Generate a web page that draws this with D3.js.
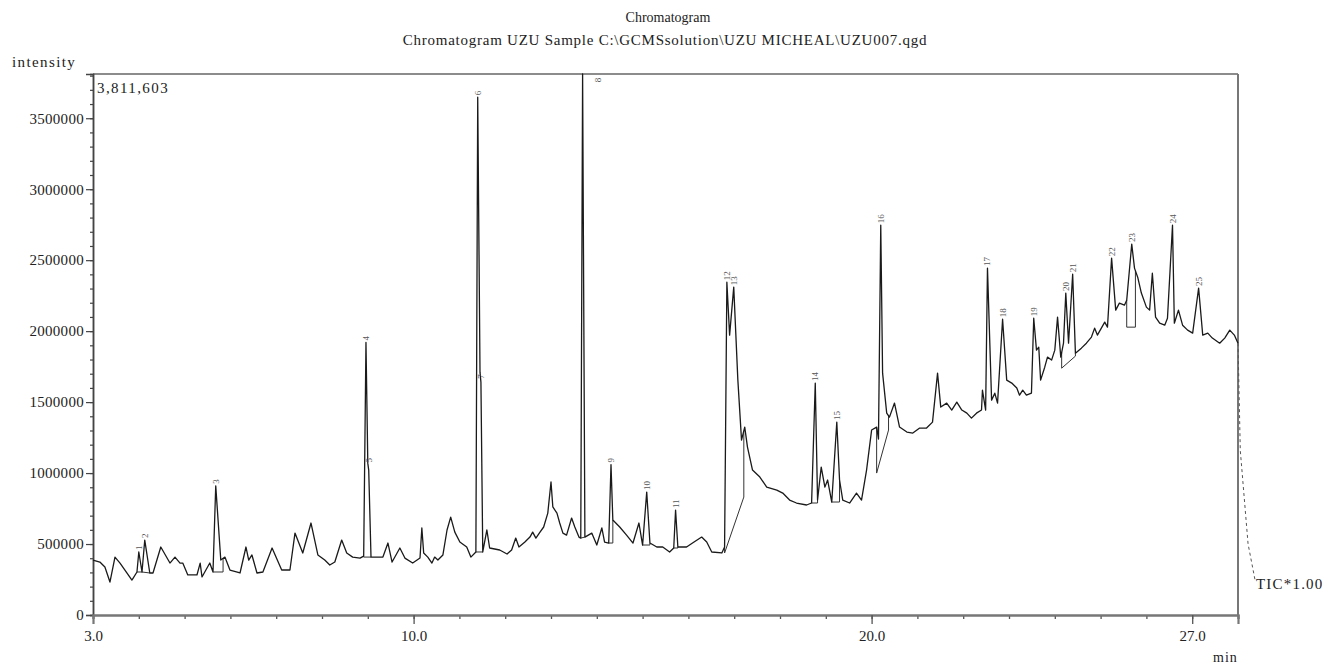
<!DOCTYPE html>
<html><head><meta charset="utf-8">
<script src="https://cdn.jsdelivr.net/npm/d3@7"></script>
<style>
body{margin:0;background:#fff;}
text{font-family:"Liberation Serif","Times New Roman",serif;}
</style></head><body>
<svg id="chart" width="1333" height="667"></svg>
<script>
// ---------------- DATA ----------------
const titleLines = ["Chromatogram", "Chromatogram UZU Sample C:\\GCMSsolution\\UZU MICHEAL\\UZU007.qgd"];
const yAxisTitle = "intensity";
const xAxisTitle = "min";
const traceName = "TIC*1.00";
const maxIntensity = 3811603;
const timeRange = [3.0, 28.0];
const yTickValues = [0, 500000, 1000000, 1500000, 2000000, 2500000, 3000000, 3500000];
const xTickLabels = [3.0, 10.0, 20.0, 27.0];
const xMajorTicks = [10.0, 20.0, 27.0];

const retentionTime = [
 3.00,3.15,3.26,3.37,3.48,3.59,3.85,3.96,4.00,4.07,
 4.13,4.24,4.31,4.48,4.68,4.79,4.90,4.96,5.07,5.27,
 5.34,5.38,5.55,5.62,5.68,5.79,5.88,5.99,6.21,6.34,
 6.40,6.47,6.58,6.71,6.91,7.12,7.30,7.41,7.58,7.76,
 7.91,8.06,8.17,8.28,8.43,8.54,8.67,8.83,8.91,8.96,
 9.00,9.02,9.07,9.33,9.44,9.53,9.70,9.81,9.98,10.14,
 10.18,10.22,10.31,10.40,10.46,10.53,10.64,10.73,10.81,10.90,
 11.01,11.16,11.25,11.36,11.40,11.45,11.47,11.51,11.60,11.66,
 11.88,12.04,12.14,12.23,12.30,12.43,12.54,12.60,12.67,12.76,
 12.84,12.93,13.00,13.04,13.13,13.19,13.26,13.34,13.45,13.52,
 13.61,13.65,13.69,13.74,13.89,14.00,14.11,14.17,14.26,14.31,
 14.35,14.50,14.65,14.79,14.92,15.00,15.09,15.16,15.31,15.44,
 15.59,15.68,15.72,15.77,15.96,16.09,16.29,16.40,16.51,16.73,
 16.79,16.84,16.90,16.99,17.08,17.16,17.23,17.29,17.40,17.56,
 17.71,17.93,18.06,18.21,18.36,18.58,18.69,18.77,18.82,18.90,
 18.98,19.04,19.13,19.24,19.30,19.37,19.52,19.67,19.78,19.89,
 20.00,20.11,20.15,20.20,20.24,20.33,20.39,20.50,20.61,20.77,
 20.90,21.05,21.20,21.33,21.44,21.51,21.64,21.75,21.86,21.97,
 22.08,22.18,22.29,22.40,22.42,22.49,22.53,22.62,22.69,22.75,
 22.86,22.95,23.06,23.17,23.23,23.30,23.38,23.49,23.54,23.60,
 23.65,23.69,23.78,23.84,23.93,24.00,24.06,24.13,24.19,24.24,
 24.30,24.39,24.45,24.58,24.69,24.80,24.87,24.93,25.09,25.15,
 25.24,25.33,25.41,25.52,25.57,25.68,25.74,25.81,25.89,26.00,
 26.07,26.13,26.20,26.29,26.40,26.46,26.57,26.61,26.70,26.79,
 26.90,27.01,27.14,27.23,27.34,27.44,27.60,27.71,27.82,27.92,
 28.00
];
const intensity = [
 387000,373000,338000,232000,408000,366000,246000,303000,444000,303000,
 528000,296000,296000,479000,366000,408000,366000,366000,282000,282000,
 366000,268000,366000,303000,910000,387000,408000,317000,296000,479000,
 387000,423000,296000,303000,472000,317000,317000,577000,437000,648000,
 423000,387000,352000,373000,528000,437000,408000,401000,415000,1920000,
 1070000,1021000,408000,408000,507000,373000,472000,401000,366000,401000,
 613000,437000,408000,366000,408000,387000,423000,599000,690000,584000,
 514000,479000,408000,444000,3648000,1711000,1641000,444000,599000,472000,
 458000,430000,458000,542000,479000,514000,549000,584000,542000,584000,
 620000,718000,937000,761000,718000,648000,577000,563000,683000,620000,
 549000,542000,3811603,549000,577000,493000,613000,514000,507000,1060000,
 669000,620000,563000,507000,648000,493000,866000,507000,479000,479000,
 444000,472000,739000,479000,479000,507000,549000,514000,444000,437000,
 479000,2345000,1972000,2310000,1655000,1232000,1324000,1183000,1021000,972000,
 901000,880000,859000,810000,789000,775000,789000,1634000,810000,1042000,
 901000,951000,796000,1359000,951000,810000,789000,859000,810000,1021000,
 1303000,1324000,1240000,2746000,1704000,1422000,1394000,1493000,1324000,1289000,
 1282000,1317000,1317000,1359000,1704000,1465000,1493000,1444000,1500000,1444000,
 1422000,1387000,1422000,1444000,1584000,1444000,2444000,1514000,1563000,1493000,
 2084000,1655000,1634000,1599000,1549000,1584000,1549000,1563000,2091000,1866000,
 1887000,1655000,1746000,1817000,1796000,1866000,2099000,1817000,1915000,2268000,
 1915000,2401000,1845000,1880000,1915000,1958000,2021000,1972000,2063000,2028000,
 2514000,2148000,2197000,2183000,2218000,2613000,2444000,2380000,2268000,2169000,
 2148000,2408000,2099000,2056000,2042000,2091000,2746000,2056000,2148000,2042000,
 2007000,1986000,2303000,1972000,1986000,1951000,1915000,1951000,2007000,1972000,
 1915000
];
// dashed tail beyond the end of the run
const tailTime = [28.00, 28.05, 28.22, 28.37];
const tailIntensity = [1915000, 1160000, 500000, 250000];

// peak table: number, retention time, top intensity
const peakNumbers = [1,2,3,4,5,6,7,8,9,10,11,12,13,14,15,16,17,18,19,20,21,22,23,24,25];
const peakTimes = [4.00,4.13,5.68,8.96,9.02,11.40,11.48,13.69,14.31,15.09,15.72,16.84,16.99,18.77,19.24,20.20,22.53,22.86,23.54,24.24,24.39,25.24,25.68,26.57,27.14];
const peakHeights = [444000,528000,910000,1920000,1060000,3648000,1650000,3811603,1060000,866000,739000,2345000,2310000,1634000,1359000,2746000,2444000,2084000,2091000,2268000,2401000,2514000,2613000,2746000,2303000];

// integration baselines [startTime, startIntensity, endTime, endIntensity]
const integrationBaselines = [
 [3.96,303000,4.07,303000],
 [4.07,303000,4.24,296000],
 [5.62,303000,5.84,303000],
 [8.91,408000,9.07,408000],
 [11.36,444000,11.51,444000],
 [13.65,542000,13.74,549000],
 [14.26,507000,14.35,507000],
 [15.00,493000,15.16,493000],
 [15.68,472000,15.77,472000],
 [16.79,437000,17.21,831000],
 [18.69,789000,18.82,789000],
 [19.13,796000,19.30,796000],
 [20.11,1000000,20.37,1303000],
 [24.15,1739000,24.45,1824000],
 [25.57,2028000,25.76,2028000]
];

// ---------------- DRAW ----------------
const svg = d3.select("#chart");
const x = d3.scaleLinear().domain(timeRange).range([93, 1238]);
const y = d3.scaleLinear().domain([0, maxIntensity]).range([615, 74]);
const serif = '"Liberation Serif","Times New Roman",serif';

// titles
svg.append("text").attr("x", 668).attr("y", 22).attr("text-anchor","middle")
  .attr("font-size", 14).attr("fill","#222").text(titleLines[0]);
svg.append("text").attr("x", 665).attr("y", 45).attr("text-anchor","middle")
  .attr("font-size", 15).attr("letter-spacing", 0.75).attr("fill","#222").text(titleLines[1]);
svg.append("text").attr("x", 12).attr("y", 67).attr("font-size", 15).attr("letter-spacing", 1.4)
  .attr("fill","#222").text(yAxisTitle);
svg.append("text").attr("x", 1213).attr("y", 662).attr("font-size", 14).attr("letter-spacing", 1)
  .attr("fill","#222").text(xAxisTitle);

// frame (top & right)
svg.append("line").attr("x1", x(timeRange[0])).attr("x2", x(timeRange[1]))
  .attr("y1", y(maxIntensity)).attr("y2", y(maxIntensity)).attr("stroke","#666").attr("stroke-width",1.5);
svg.append("line").attr("x1", x(timeRange[1])).attr("x2", x(timeRange[1]))
  .attr("y1", y(0)).attr("y2", y(maxIntensity)).attr("stroke","#777").attr("stroke-width",2);

// y axis
const yMinor = d3.range(0, maxIntensity, 100000);
const gyMinor = svg.append("g").attr("transform", `translate(${x(timeRange[0])},0)`)
  .call(d3.axisLeft(y).tickValues(yMinor).tickSize(3).tickFormat(""));
const gy = svg.append("g").attr("transform", `translate(${x(timeRange[0])},0)`)
  .call(d3.axisLeft(y).tickValues(yTickValues).tickSize(7).tickPadding(2).tickFormat(d3.format("d")));
[gyMinor, gy].forEach(g => {
  g.select(".domain").attr("stroke","#444").attr("stroke-width",1.5);
  g.selectAll(".tick line").attr("stroke","#444").attr("stroke-width",1.2);
});
gy.selectAll("text").attr("font-family", serif).attr("font-size", 15).attr("letter-spacing", 0.3).attr("fill","#222");

// max intensity readout
svg.append("text").attr("x", 97).attr("y", 93).attr("font-size", 15).attr("letter-spacing", 1.4).attr("fill","#222")
  .text(d3.format(",")(maxIntensity));

// x axis
const xMinor = d3.range(timeRange[0], timeRange[1] + 0.001, 1);
const gxMinor = svg.append("g").attr("transform", `translate(0,${y(0)})`)
  .call(d3.axisBottom(x).tickValues(xMinor).tickSize(4).tickFormat(""));
const gxMajor = svg.append("g").attr("transform", `translate(0,${y(0)})`)
  .call(d3.axisBottom(x).tickValues(xMajorTicks).tickSize(9).tickFormat(""));
const gx = svg.append("g").attr("transform", `translate(0,${y(0)})`)
  .call(d3.axisBottom(x).tickValues(xTickLabels).tickSize(0).tickPadding(15).tickFormat(d3.format(".1f")));
[gxMinor, gxMajor].forEach(g => {
  g.select(".domain").attr("stroke","#777").attr("stroke-width",2.2);
  g.selectAll(".tick line").attr("stroke","#555").attr("stroke-width",1.3);
});
gx.select(".domain").remove();
gx.selectAll("text").attr("font-family", serif).attr("font-size", 15).attr("fill","#222");

// integration baselines
function traceAt(t){
  const i = d3.bisectLeft(retentionTime, t);
  if (i <= 0) return intensity[0];
  if (i >= retentionTime.length) return intensity[intensity.length-1];
  const t0 = retentionTime[i-1], t1 = retentionTime[i];
  const f = (t - t0) / (t1 - t0);
  return intensity[i-1] + f * (intensity[i] - intensity[i-1]);
}
const gb = svg.append("g").attr("stroke","#333").attr("stroke-width",1).attr("fill","none");
integrationBaselines.forEach(b => {
  const [t1, i1, t2, i2] = b;
  const pts = [[t1, Math.max(traceAt(t1), i1)], [t1, i1], [t2, i2], [t2, Math.max(traceAt(t2), i2)]];
  gb.append("path").attr("d", d3.line().x(d => x(d[0])).y(d => y(d[1]))(pts));
});

// TIC trace
const traceData = retentionTime.map((t, i) => ({t, v: intensity[i]}));
svg.append("path").datum(traceData)
  .attr("fill","none").attr("stroke","#1a1a1a").attr("stroke-width",1.3).attr("stroke-linejoin","round")
  .attr("d", d3.line().x(d => x(d.t)).y(d => y(d.v)));

// dashed tail
const tailData = tailTime.map((t, i) => ({t, v: tailIntensity[i]}));
svg.append("path").datum(tailData)
  .attr("fill","none").attr("stroke","#555").attr("stroke-width",1).attr("stroke-dasharray","3,3")
  .attr("d", d3.line().x(d => x(d.t)).y(d => y(d.v)));
svg.append("text").attr("x", 1256).attr("y", 589).attr("font-size", 15).attr("letter-spacing", 1.2)
  .attr("fill","#222").text(traceName);

// peak labels
const gl = svg.append("g");
peakNumbers.forEach((n, i) => {
  let px = x(peakTimes[i]), py = y(peakHeights[i]) - 2;
  let anchor = "start";
  if (py - 10 < y(maxIntensity)) { px = px + 15; py = y(maxIntensity) + 6; anchor = "middle"; }
  gl.append("text").attr("transform", `translate(${px + 3},${py}) rotate(-90)`)
    .attr("text-anchor", anchor).attr("font-size", 9).attr("fill","#555").text(n);
});
</script>
</body></html>
